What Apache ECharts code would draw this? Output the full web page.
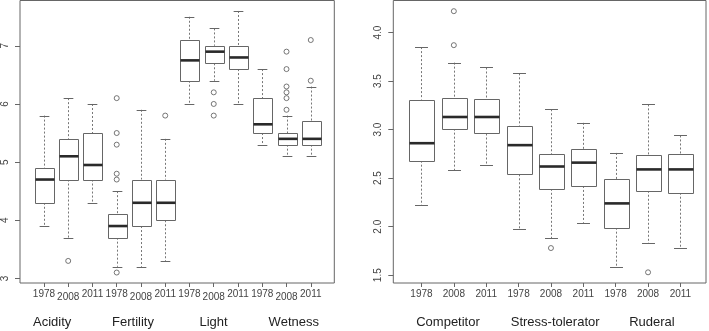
<!DOCTYPE html>
<html>
<head>
<meta charset="utf-8">
<script src="https://cdn.jsdelivr.net/npm/echarts@6/dist/echarts.min.js"></script>
<style>
  html, body { margin: 0; padding: 0; background: #fff; }
  #chart { width: 709px; height: 331px; }
</style>
</head>
<body>
<div id="chart"></div>
<script>
// left panel: Ellenberg indicator values per survey year
const leftYears = ['1978', '2008', '2011', '1978', '2008', '2011', '1978', '2008', '2011', '1978', '2008', '2011'];
const leftGroups = ['Acidity', 'Fertility', 'Light', 'Wetness'];
const leftHigh = [5.8, 6.1, 6.0, 4.5, 5.9, 5.4, 7.5, 7.3, 7.6, 6.6, 5.8, 6.3];
const leftQ3   = [4.9, 5.4, 5.5, 4.1, 4.7, 4.7, 7.1, 7.0, 7.0, 6.1, 5.5, 5.7];
const leftMed  = [4.7, 5.1, 4.95, 3.9, 4.3, 4.3, 6.75, 6.9, 6.8, 5.65, 5.4, 5.4];
const leftQ1   = [4.3, 4.7, 4.7, 3.7, 3.9, 4.0, 6.4, 6.7, 6.6, 5.5, 5.3, 5.3];
const leftLow  = [3.9, 3.7, 4.3, 3.2, 3.2, 3.3, 6.0, 6.4, 6.0, 5.3, 5.1, 5.1];
const leftOut  = [[2, 3.3], [4, 6.1], [4, 5.5], [4, 5.3], [4, 4.8], [4, 4.7], [4, 3.1], [6, 5.8],
                  [8, 6.2], [8, 6.0], [8, 5.8], [11, 6.9], [11, 6.6], [11, 6.3], [11, 6.2], [11, 6.1],
                  [11, 5.9], [12, 7.1], [12, 6.4]];
const leftYTicks = [3, 4, 5, 6, 7];

// right panel: CSR strategy scores
const rightYears = ['1978', '2008', '2011', '1978', '2008', '2011', '1978', '2008', '2011'];
const rightGroups = ['Competitor', 'Stress-tolerator', 'Ruderal'];
const rightHigh = [3.85, 3.69, 3.64, 3.58, 3.21, 3.07, 2.76, 3.26, 2.94];
const rightQ3   = [3.31, 3.33, 3.32, 3.04, 2.75, 2.80, 2.49, 2.74, 2.75];
const rightMed  = [2.86, 3.13, 3.13, 2.84, 2.62, 2.66, 2.24, 2.59, 2.59];
const rightQ1   = [2.68, 3.01, 2.96, 2.54, 2.39, 2.42, 1.99, 2.37, 2.35];
const rightLow  = [2.22, 2.58, 2.64, 1.98, 1.88, 2.04, 1.58, 1.83, 1.78];
const rightOut  = [[2, 4.22], [2, 3.87], [5, 1.78], [8, 1.53]];
const rightYTicks = [1.5, 2.0, 2.5, 3.0, 3.5, 4.0];

const FONT = "'Liberation Sans', Arial, sans-serif";
const AXIS = '#666';

// where the group names sit along the x axis (mtext style)
const leftGroupAt = [1.34, 4.67, 7.99, 11.3];
const rightGroupAt = [1.82, 5.13, 8.12];

function boxRows(high, q3, med, q1, low) {
  return high.map((h, i) => [i + 1, h, q3[i], med[i], q1[i], low[i]]);
}

function renderBox(params, api) {
  const x = api.value(0);
  const cx = Math.round(api.coord([x, 0])[0]) + 0.5;
  const yH = api.coord([x, api.value(1)])[1];
  const y3 = api.coord([x, api.value(2)])[1];
  const yM = api.coord([x, api.value(3)])[1];
  const y1 = api.coord([x, api.value(4)])[1];
  const yL = api.coord([x, api.value(5)])[1];
  const w = api.size([0.8, 0])[0];
  const sw = w / 2;
  const left = Math.round(cx - w / 2) + 0.5;
  const right = Math.round(cx + w / 2) + 0.5;
  const whisk = { stroke: '#777', lineWidth: 1, lineDash: [2, 2] };
  const solid = { stroke: '#666', lineWidth: 1 };
  return {
    type: 'group',
    children: [
      { type: 'line', shape: { x1: cx, y1: yH, x2: cx, y2: y3 }, style: whisk },
      { type: 'line', shape: { x1: cx, y1: y1, x2: cx, y2: yL }, style: whisk },
      { type: 'line', shape: { x1: cx - sw / 2, y1: Math.round(yH) + 0.5, x2: cx + sw / 2, y2: Math.round(yH) + 0.5 }, style: solid },
      { type: 'line', shape: { x1: cx - sw / 2, y1: Math.round(yL) + 0.5, x2: cx + sw / 2, y2: Math.round(yL) + 0.5 }, style: solid },
      { type: 'rect', shape: { x: left, y: Math.round(y3) + 0.5, width: right - left, height: Math.round(y1) - Math.round(y3) },
        style: { fill: '#fff', stroke: '#666', lineWidth: 1 } },
      { type: 'line', shape: { x1: left, y1: yM, x2: right, y2: yM }, style: { stroke: '#2a2a2a', lineWidth: 2.6 } }
    ]
  };
}

function nameAt(list, names) {
  return v => {
    const i = list.findIndex(p => Math.abs(p - v) < 0.01);
    return i < 0 ? '' : names[i];
  };
}

function xYearAxis(gridIndex, min, max, years, stagger) {
  const ticks = years.map((_, i) => i + 1);
  return {
    type: 'value', gridIndex, min, max,
    axisLine: { show: false }, splitLine: { show: false },
    axisTick: { show: true, customValues: ticks, length: 4, lineStyle: { color: AXIS } },
    axisLabel: {
      customValues: ticks, margin: 6, fontFamily: FONT, fontSize: 10, color: '#444',
      formatter: v => {
        const i = Math.round(v) - 1;
        if (!stagger) return years[i];
        return (i % 3 === 1 ? '{lo|' : '{hi|') + years[i] + '}';
      },
      rich: {
        hi: { fontFamily: FONT, fontSize: 10, color: '#444' },
        lo: { fontFamily: FONT, fontSize: 10, color: '#444', padding: [3, 0, 0, 0] }
      }
    }
  };
}

function xGroupAxis(gridIndex, min, max, at, names) {
  return {
    type: 'value', gridIndex, min, max, position: 'bottom',
    axisLine: { show: false }, axisTick: { show: false }, splitLine: { show: false },
    axisLabel: { customValues: at, margin: 33, fontFamily: FONT, fontSize: 13, color: '#222',
      formatter: nameAt(at, names) }
  };
}

function yAxis(gridIndex, min, max, ticks, fmt) {
  return {
    type: 'value', gridIndex, min, max,
    axisLine: { show: false }, splitLine: { show: false },
    axisTick: { show: true, customValues: ticks, length: 5, lineStyle: { color: AXIS } },
    axisLabel: { customValues: ticks, rotate: 90, margin: 10, fontFamily: FONT, fontSize: 10, color: '#444',
      formatter: fmt }
  };
}

const outlierStyle = { color: 'rgba(0,0,0,0)', borderColor: '#555', borderWidth: 1 };

const chart = echarts.init(document.getElementById('chart'));
chart.setOption({
  animation: false,
  backgroundColor: '#fff',
  grid: [
    { left: 19.3, right: 374.7, top: 0.5, bottom: 48, show: true, borderColor: AXIS, borderWidth: 1, backgroundColor: 'transparent' },
    { left: 393.3, right: 3, top: 0.5, bottom: 48, show: true, borderColor: AXIS, borderWidth: 1, backgroundColor: 'transparent' }
  ],
  xAxis: [
    xYearAxis(0, 0.013, 12.97, leftYears, true),
    xGroupAxis(0, 0.013, 12.97, leftGroupAt, leftGroups),
    xYearAxis(1, 0.13, 9.79, rightYears, false),
    xGroupAxis(1, 0.13, 9.79, rightGroupAt, rightGroups)
  ],
  yAxis: [
    yAxis(0, 2.92, 7.78, leftYTicks, v => String(v)),
    yAxis(1, 1.42, 4.33, rightYTicks, v => v.toFixed(1))
  ],
  series: [
    { type: 'custom', xAxisIndex: 0, yAxisIndex: 0, renderItem: renderBox,
      encode: { x: 0, y: [1, 2, 3, 4, 5] },
      data: boxRows(leftHigh, leftQ3, leftMed, leftQ1, leftLow) },
    { type: 'scatter', xAxisIndex: 0, yAxisIndex: 0, symbol: 'circle', symbolSize: 5,
      itemStyle: outlierStyle, data: leftOut },
    { type: 'custom', xAxisIndex: 2, yAxisIndex: 1, renderItem: renderBox,
      encode: { x: 0, y: [1, 2, 3, 4, 5] },
      data: boxRows(rightHigh, rightQ3, rightMed, rightQ1, rightLow) },
    { type: 'scatter', xAxisIndex: 2, yAxisIndex: 1, symbol: 'circle', symbolSize: 5,
      itemStyle: outlierStyle, data: rightOut }
  ]
});
</script>
</body>
</html>
